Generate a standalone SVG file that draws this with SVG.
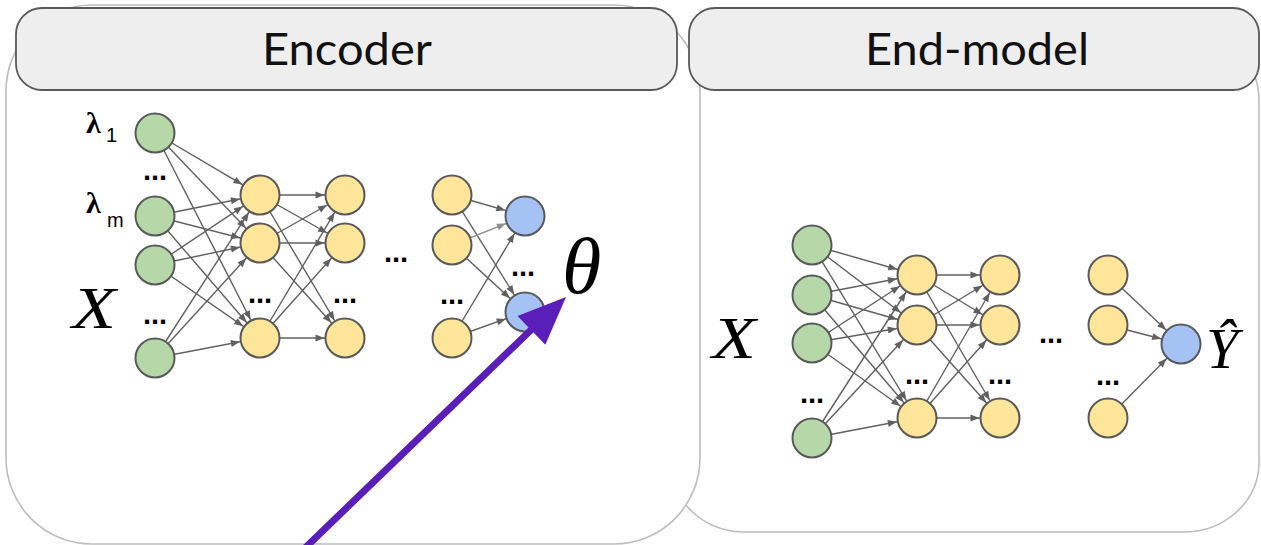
<svg xmlns="http://www.w3.org/2000/svg" width="1261" height="545" viewBox="0 0 1261 545">
<style>
.outer{fill:#ffffff;stroke:#bdbdbd;stroke-width:1.6}
.hdr{fill:#eeeeee;stroke:#595959;stroke-width:1.8}
.hdrt{font-family:Lato,"Open Sans",sans-serif;font-size:44px;fill:#111;text-anchor:middle}
.g{fill:#b6d7a8;stroke:#595959;stroke-width:2}
.y{fill:#ffe599;stroke:#595959;stroke-width:2}
.b{fill:#a4c2f4;stroke:#595959;stroke-width:2}
.e{stroke:#606060;stroke-width:1.4;fill:none;marker-end:url(#ah)}
.el{stroke:#909090;stroke-width:1.4;fill:none;marker-end:url(#ahl)}
.dots{font-family:"Liberation Sans",Arial,sans-serif;font-size:29px;font-weight:bold;fill:#000;text-anchor:middle}
.sub{font-family:"Liberation Sans",Arial,sans-serif;font-size:20px;fill:#000}
.lam{font-family:"Liberation Serif","Times New Roman",serif;font-weight:bold;font-size:30px;fill:#000}
.math{font-family:"Liberation Serif","Times New Roman",serif;font-style:italic;fill:#000}
</style>
<defs>
<marker id="ah" markerUnits="userSpaceOnUse" markerWidth="32" markerHeight="10" refX="30" refY="5" orient="auto">
<path d="M0.5,1.5 L9.5,5 L0.5,8.5 z" fill="#606060"/>
</marker>
<marker id="ahl" markerUnits="userSpaceOnUse" markerWidth="32" markerHeight="10" refX="30" refY="5" orient="auto">
<path d="M0.5,1.5 L9.5,5 L0.5,8.5 z" fill="#909090"/>
</marker>
</defs>

<g id="endmodel-box"><rect class="outer" x="670" y="30" width="589" height="502" rx="75" ry="70"/></g>
<g id="encoder-box"><rect class="outer" x="6" y="5" width="694" height="539" rx="86" ry="86"/></g>

<g id="encoder-header"><rect class="hdr" x="16" y="8" width="661" height="82" rx="26"/><text class="hdrt" x="347" y="65" textLength="170" lengthAdjust="spacingAndGlyphs">Encoder</text></g>
<g id="endmodel-header"><rect class="hdr" x="689" y="8" width="570" height="82" rx="26"/><text class="hdrt" x="977" y="65" textLength="224" lengthAdjust="spacingAndGlyphs">End-model</text></g>

<g id="connectors">
<line class="e" x1="155" y1="133" x2="260" y2="195"/>
<line class="e" x1="155" y1="133" x2="260" y2="243"/>
<line class="e" x1="155" y1="133" x2="260" y2="338"/>
<line class="e" x1="155" y1="216" x2="260" y2="195"/>
<line class="e" x1="155" y1="216" x2="260" y2="243"/>
<line class="e" x1="155" y1="216" x2="260" y2="338"/>
<line class="e" x1="155" y1="265" x2="260" y2="195"/>
<line class="e" x1="155" y1="265" x2="260" y2="243"/>
<line class="e" x1="155" y1="265" x2="260" y2="338"/>
<line class="e" x1="155" y1="358" x2="260" y2="195"/>
<line class="e" x1="155" y1="358" x2="260" y2="243"/>
<line class="e" x1="155" y1="358" x2="260" y2="338"/>
<line class="e" x1="260" y1="195" x2="345" y2="195"/>
<line class="e" x1="260" y1="195" x2="345" y2="243"/>
<line class="e" x1="260" y1="195" x2="345" y2="338"/>
<line class="e" x1="260" y1="243" x2="345" y2="195"/>
<line class="e" x1="260" y1="243" x2="345" y2="243"/>
<line class="e" x1="260" y1="243" x2="345" y2="338"/>
<line class="e" x1="260" y1="338" x2="345" y2="195"/>
<line class="e" x1="260" y1="338" x2="345" y2="243"/>
<line class="e" x1="260" y1="338" x2="345" y2="338"/>
<line class="e" x1="452" y1="195" x2="525" y2="216"/>
<line class="e" x1="452" y1="195" x2="525" y2="312"/>
<line class="el" x1="452" y1="245" x2="525" y2="216"/>
<line class="e" x1="452" y1="245" x2="525" y2="312"/>
<line class="e" x1="452" y1="338" x2="525" y2="216"/>
<line class="e" x1="452" y1="338" x2="525" y2="312"/>
<line class="e" x1="812" y1="245" x2="917" y2="275"/>
<line class="e" x1="812" y1="245" x2="917" y2="325"/>
<line class="e" x1="812" y1="245" x2="917" y2="418"/>
<line class="e" x1="812" y1="295" x2="917" y2="275"/>
<line class="e" x1="812" y1="295" x2="917" y2="325"/>
<line class="e" x1="812" y1="295" x2="917" y2="418"/>
<line class="e" x1="812" y1="343" x2="917" y2="275"/>
<line class="e" x1="812" y1="343" x2="917" y2="325"/>
<line class="e" x1="812" y1="343" x2="917" y2="418"/>
<line class="e" x1="812" y1="438" x2="917" y2="275"/>
<line class="e" x1="812" y1="438" x2="917" y2="325"/>
<line class="e" x1="812" y1="438" x2="917" y2="418"/>
<line class="e" x1="917" y1="275" x2="1000" y2="275"/>
<line class="e" x1="917" y1="275" x2="1000" y2="325"/>
<line class="e" x1="917" y1="275" x2="1000" y2="418"/>
<line class="e" x1="917" y1="325" x2="1000" y2="275"/>
<line class="e" x1="917" y1="325" x2="1000" y2="325"/>
<line class="e" x1="917" y1="325" x2="1000" y2="418"/>
<line class="e" x1="917" y1="418" x2="1000" y2="275"/>
<line class="e" x1="917" y1="418" x2="1000" y2="325"/>
<line class="e" x1="917" y1="418" x2="1000" y2="418"/>
<line class="e" x1="1108" y1="275" x2="1181" y2="344"/>
<line class="e" x1="1108" y1="325" x2="1181" y2="344"/>
<line class="e" x1="1108" y1="418" x2="1181" y2="344"/>
</g>

<g id="enc-in1"><circle class="g" cx="155" cy="133" r="19.5"/></g>
<g id="enc-in2"><circle class="g" cx="155" cy="216" r="19.5"/></g>
<g id="enc-in3"><circle class="g" cx="155" cy="265" r="19.5"/></g>
<g id="enc-in4"><circle class="g" cx="155" cy="358" r="19.5"/></g>
<g id="enc-h1a"><circle class="y" cx="260" cy="195" r="19.5"/></g>
<g id="enc-h1b"><circle class="y" cx="260" cy="243" r="19.5"/></g>
<g id="enc-h1c"><circle class="y" cx="260" cy="338" r="19.5"/></g>
<g id="enc-h2a"><circle class="y" cx="345" cy="195" r="19.5"/></g>
<g id="enc-h2b"><circle class="y" cx="345" cy="243" r="19.5"/></g>
<g id="enc-h2c"><circle class="y" cx="345" cy="338" r="19.5"/></g>
<g id="enc-h3a"><circle class="y" cx="452" cy="195" r="19.5"/></g>
<g id="enc-h3b"><circle class="y" cx="452" cy="245" r="19.5"/></g>
<g id="enc-h3c"><circle class="y" cx="452" cy="338" r="19.5"/></g>
<g id="enc-out1"><circle class="b" cx="525" cy="216" r="19.5"/></g>
<g id="enc-out2"><circle class="b" cx="525" cy="312" r="19.5"/></g>

<g id="end-in1"><circle class="g" cx="812" cy="245" r="19.5"/></g>
<g id="end-in2"><circle class="g" cx="812" cy="295" r="19.5"/></g>
<g id="end-in3"><circle class="g" cx="812" cy="343" r="19.5"/></g>
<g id="end-in4"><circle class="g" cx="812" cy="438" r="19.5"/></g>
<g id="end-h1a"><circle class="y" cx="917" cy="275" r="19.5"/></g>
<g id="end-h1b"><circle class="y" cx="917" cy="325" r="19.5"/></g>
<g id="end-h1c"><circle class="y" cx="917" cy="418" r="19.5"/></g>
<g id="end-h2a"><circle class="y" cx="1000" cy="275" r="19.5"/></g>
<g id="end-h2b"><circle class="y" cx="1000" cy="325" r="19.5"/></g>
<g id="end-h2c"><circle class="y" cx="1000" cy="418" r="19.5"/></g>
<g id="end-h3a"><circle class="y" cx="1108" cy="275" r="19.5"/></g>
<g id="end-h3b"><circle class="y" cx="1108" cy="325" r="19.5"/></g>
<g id="end-h3c"><circle class="y" cx="1108" cy="418" r="19.5"/></g>
<g id="end-out"><circle class="b" cx="1181" cy="344" r="19.5"/></g>

<g id="labels">
<text class="lam" x="86" y="133">λ</text><text class="sub" x="106" y="142">1</text>
<text class="lam" x="86" y="213">λ</text><text class="sub" x="107" y="227">m</text>
<text class="dots" x="155" y="180">...</text>
<text class="dots" x="155" y="324">...</text>
<text class="dots" x="260" y="303">...</text>
<text class="dots" x="345" y="303">...</text>
<text class="dots" x="396" y="262">...</text>
<text class="dots" x="452" y="304">...</text>
<text class="dots" x="523" y="276">...</text>
<text class="math" x="72" y="328" font-size="60" textLength="44" lengthAdjust="spacingAndGlyphs">X</text>
<text class="math" x="562" y="293" font-size="80">θ</text>
<text class="dots" x="812" y="403">...</text>
<text class="dots" x="917" y="384">...</text>
<text class="dots" x="1000" y="384">...</text>
<text class="dots" x="1051" y="343">...</text>
<text class="dots" x="1108" y="385">...</text>
<text class="math" x="712" y="358" font-size="60" textLength="44" lengthAdjust="spacingAndGlyphs">X</text>
<text class="math" x="1206" y="368" font-size="58">Ŷ</text>
</g>

<g id="purple-arrow">
<line x1="305" y1="548" x2="533" y2="328" stroke="#5b1fb9" stroke-width="7"/>
<polygon points="566,297 545.3,344.7 517.5,315.9" fill="#5b1fb9"/>
</g>
</svg>
